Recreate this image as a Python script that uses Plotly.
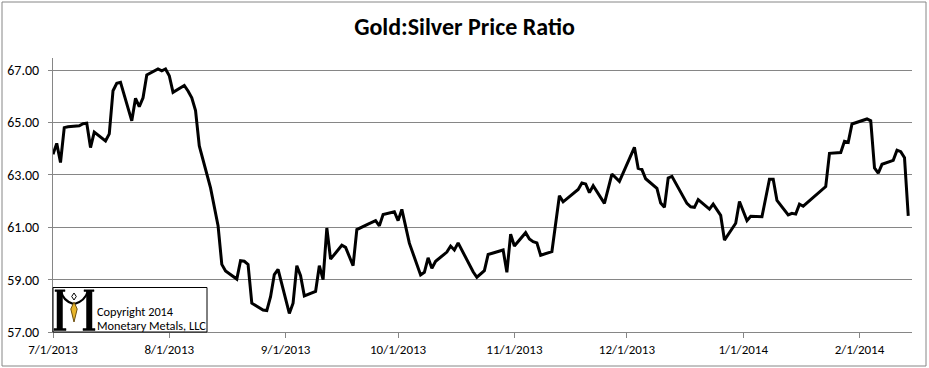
import plotly.graph_objects as go

# ---------------- data ----------------
dates = [
    "2013-07-01", "2013-07-02", "2013-07-03", "2013-07-04", "2013-07-05",
    "2013-07-08", "2013-07-09", "2013-07-10", "2013-07-11", "2013-07-12",
    "2013-07-15", "2013-07-16", "2013-07-17", "2013-07-18", "2013-07-19",
    "2013-07-22", "2013-07-23", "2013-07-24", "2013-07-25", "2013-07-26",
    "2013-07-29", "2013-07-30", "2013-07-31", "2013-08-01", "2013-08-02",
    "2013-08-05", "2013-08-06", "2013-08-07", "2013-08-08", "2013-08-09",
    "2013-08-12", "2013-08-13", "2013-08-14", "2013-08-15", "2013-08-16",
    "2013-08-19", "2013-08-20", "2013-08-21", "2013-08-22", "2013-08-23",
    "2013-08-26", "2013-08-27", "2013-08-28", "2013-08-29", "2013-08-30",
    "2013-09-02", "2013-09-03", "2013-09-04", "2013-09-05", "2013-09-06",
    "2013-09-09", "2013-09-10", "2013-09-11", "2013-09-12", "2013-09-13",
    "2013-09-16", "2013-09-17", "2013-09-19", "2013-09-20",
    "2013-09-23", "2013-09-24", "2013-09-25", "2013-09-26", "2013-09-27",
    "2013-09-30", "2013-10-01", "2013-10-02", "2013-10-04",
    "2013-10-07", "2013-10-08", "2013-10-09", "2013-10-10", "2013-10-11",
    "2013-10-14", "2013-10-15", "2013-10-16", "2013-10-17",
    "2013-10-21", "2013-10-22", "2013-10-24", "2013-10-25",
    "2013-10-28", "2013-10-29", "2013-10-30", "2013-10-31", "2013-11-01",
    "2013-11-04", "2013-11-05", "2013-11-06", "2013-11-07", "2013-11-08",
    "2013-11-11", "2013-11-13", "2013-11-14",
    "2013-11-18", "2013-11-19", "2013-11-20", "2013-11-21", "2013-11-22",
    "2013-11-25", "2013-11-27", "2013-11-29",
    "2013-12-03", "2013-12-04", "2013-12-05", "2013-12-06",
    "2013-12-09", "2013-12-10", "2013-12-11", "2013-12-12", "2013-12-13",
    "2013-12-17", "2013-12-18", "2013-12-19", "2013-12-20",
    "2013-12-23", "2013-12-24", "2013-12-26", "2013-12-27",
    "2013-12-30", "2013-12-31", "2014-01-02", "2014-01-03",
    "2014-01-06", "2014-01-08", "2014-01-09", "2014-01-10",
    "2014-01-13", "2014-01-14", "2014-01-15", "2014-01-16", "2014-01-17",
    "2014-01-23", "2014-01-24",
    "2014-01-27", "2014-01-28", "2014-01-29", "2014-01-30",
    "2014-02-03", "2014-02-04", "2014-02-05", "2014-02-06", "2014-02-07",
    "2014-02-10", "2014-02-11", "2014-02-12", "2014-02-13", "2014-02-14",
]

ratio = [
    63.78, 64.20, 63.47, 64.80, 64.83,
    64.87, 64.95, 64.97, 64.04, 64.63,
    64.29, 64.56, 66.21, 66.49, 66.53,
    65.06, 65.92, 65.60, 65.94, 66.81,
    67.04, 66.97, 67.04, 66.78, 66.15,
    66.41, 66.20, 65.94, 65.45, 64.10,
    62.50, 61.73, 61.06, 59.58, 59.33,
    59.02, 59.72, 59.70, 59.58, 58.10,
    57.84, 57.82, 58.35, 59.19, 59.39,
    57.71, 58.10, 59.53, 59.15, 58.38,
    58.55, 59.53, 59.00, 60.97, 59.78,
    60.31, 60.23, 59.53, 60.91,
    61.12, 61.20, 61.25, 61.05, 61.48,
    61.59, 61.25, 61.68, 60.39,
    59.18, 59.28, 59.83, 59.43, 59.70,
    60.05, 60.28, 60.13, 60.40,
    59.30, 59.09, 59.34, 59.96,
    60.10, 60.13, 59.28, 60.73, 60.28,
    60.79, 60.55, 60.45, 60.40, 59.93,
    60.07, 62.20, 61.97,
    62.44, 62.69, 62.65, 62.32, 62.58,
    61.91, 63.03, 62.75,
    64.05, 63.25, 63.20, 62.85,
    62.48, 61.92, 61.76, 62.88, 62.94,
    61.91, 61.78, 61.76, 62.05,
    61.69, 61.88, 61.45, 60.51,
    61.15, 61.98, 61.25, 61.42,
    61.40, 62.83, 62.83, 62.02,
    61.47, 61.53, 61.50, 61.88, 61.80,
    62.55, 63.82,
    63.85, 64.28, 64.24, 64.94,
    65.13, 65.06, 63.26, 63.06, 63.40,
    63.55, 63.94, 63.88, 63.65, 61.43,
]

y_ticks = [57, 59, 61, 63, 65, 67]
y_tick_labels = ["57.00", "59.00", "61.00", "63.00", "65.00", "67.00"]
x_ticks = ["2013-07-01", "2013-08-01", "2013-09-01", "2013-10-01",
           "2013-11-01", "2013-12-01", "2014-01-01", "2014-02-01"]
x_tick_labels = ["7/1/2013", "8/1/2013", "9/1/2013", "10/1/2013",
                 "11/1/2013", "12/1/2013", "1/1/2014", "2/1/2014"]
chart_title = "Gold:Silver Price Ratio"
logo_lines = ["Copyright 2014", "Monetary Metals, LLC"]

# ---------------- layout ----------------
W, H = 929, 368
L, R, T, B = 53, 912, 58, 332
FONT = "Calibri, Carlito, Lato, 'Open Sans', sans-serif"
GRID = "#868686"


def px(x):
    return (x - L) / (R - L)


def py(y):
    return (B - y) / (B - T)


def path(cmds):
    out = []
    for c in cmds:
        if isinstance(c, str):
            out.append(c)
        else:
            out.append(f"{px(c[0]):.5f},{py(c[1]):.5f}")
    return " ".join(out)


fig = go.Figure(go.Scatter(
    x=dates, y=ratio, mode="lines",
    line=dict(color="black", width=3),
    hoverinfo="skip",
))

fig.update_layout(
    width=W, height=H,
    margin=dict(l=L, r=W - R, t=T, b=H - B, pad=0, autoexpand=False),
    paper_bgcolor="white", plot_bgcolor="white",
    showlegend=False,
    font=dict(family=FONT, size=14, color="black"),
    title=dict(text="<b>" + chart_title + "</b>", xref="container", x=0.5,
               xanchor="center", yref="container", y=1 - 27 / H,
               yanchor="middle", font=dict(family=FONT, size=24, color="black")),
)

fig.update_yaxes(
    range=[57, 57 + (B - T) / 26.2],
    tickvals=y_ticks, ticktext=y_tick_labels,
    showgrid=True, gridcolor=GRID, gridwidth=1,
    showline=True, linecolor=GRID, linewidth=1,
    ticks="outside", ticklen=4, tickcolor=GRID,
    zeroline=False, ticklabelstandoff=6, automargin=False,
    tickfont=dict(family=FONT, size=14, color="black"),
)

fig.update_xaxes(
    type="date",
    range=["2013-07-01", "2014-02-15"],
    tickvals=x_ticks, ticktext=x_tick_labels,
    showgrid=False,
    showline=True, linecolor=GRID, linewidth=1,
    ticks="outside", ticklen=5, tickcolor=GRID,
    zeroline=False, ticklabelstandoff=0, automargin=False,
    tickfont=dict(family=FONT, size=13, color="black"),
)

shapes = []
# outer chart border
shapes.append(dict(type="rect", xref="paper", yref="paper",
                   x0=px(2), x1=px(926), y0=py(366), y1=py(2),
                   line=dict(color=GRID, width=1), fillcolor="rgba(0,0,0,0)",
                   layer="above"))
# logo box
shapes.append(dict(type="rect", xref="paper", yref="paper",
                   x0=px(53), x1=px(207), y0=py(332), y1=py(287.5),
                   line=dict(color="black", width=1), fillcolor="white",
                   layer="above"))
# logo "M" stems and serifs
for (x0, x1, y0, y1) in [(57, 62.5, 291, 329), (86.5, 92, 291, 329),
                         (55, 65, 289.8, 291.5), (54, 66, 328.5, 330.5),
                         (84, 94, 289.8, 291.5), (83, 95, 328.5, 330.5)]:
    shapes.append(dict(type="path", xref="paper", yref="paper",
                       path=path(["M", (x0, y0), "L", (x1, y0), "L", (x1, y1),
                                  "L", (x0, y1), "Z"]),
                       fillcolor="black", line=dict(color="black", width=0.5),
                       layer="above"))
# curved arms of the M
shapes.append(dict(type="path", xref="paper", yref="paper",
                   path=path(["M", (61, 291), "Q", (63, 301), (73.5, 304)]),
                   line=dict(color="black", width=2.2), layer="above"))
shapes.append(dict(type="path", xref="paper", yref="paper",
                   path=path(["M", (88, 291), "Q", (85, 301), (74.5, 304)]),
                   line=dict(color="black", width=2.2), layer="above"))
# small diamond
shapes.append(dict(type="path", xref="paper", yref="paper",
                   path=path(["M", (74, 293), "L", (76.3, 296.5), "L", (74, 300),
                              "L", (71.7, 296.5), "Z"]),
                   fillcolor="white", line=dict(color="black", width=1),
                   layer="above"))
# gold pendant
shapes.append(dict(type="path", xref="paper", yref="paper",
                   path=path(["M", (74, 302), "L", (77.2, 309), "L", (74, 322),
                              "L", (70.8, 309), "Z"]),
                   fillcolor="#E8B52A", line=dict(color="#6b4e10", width=1),
                   layer="above"))
fig.update_layout(shapes=shapes)

fig.add_annotation(text=logo_lines[0], xref="paper", yref="paper",
                   x=px(96), y=py(311), xanchor="left", yanchor="middle",
                   showarrow=False, borderpad=0,
                   font=dict(family=FONT, size=12.3, color="black"))
fig.add_annotation(text=logo_lines[1], xref="paper", yref="paper",
                   x=px(96), y=py(325), xanchor="left", yanchor="middle",
                   showarrow=False, borderpad=0,
                   font=dict(family=FONT, size=12.3, color="black"))

fig.write_html(
    "out.html",
    config={"displayModeBar": False, "staticPlot": True},
    post_script="document.body.style.margin='0';document.body.style.padding='0';",
)
